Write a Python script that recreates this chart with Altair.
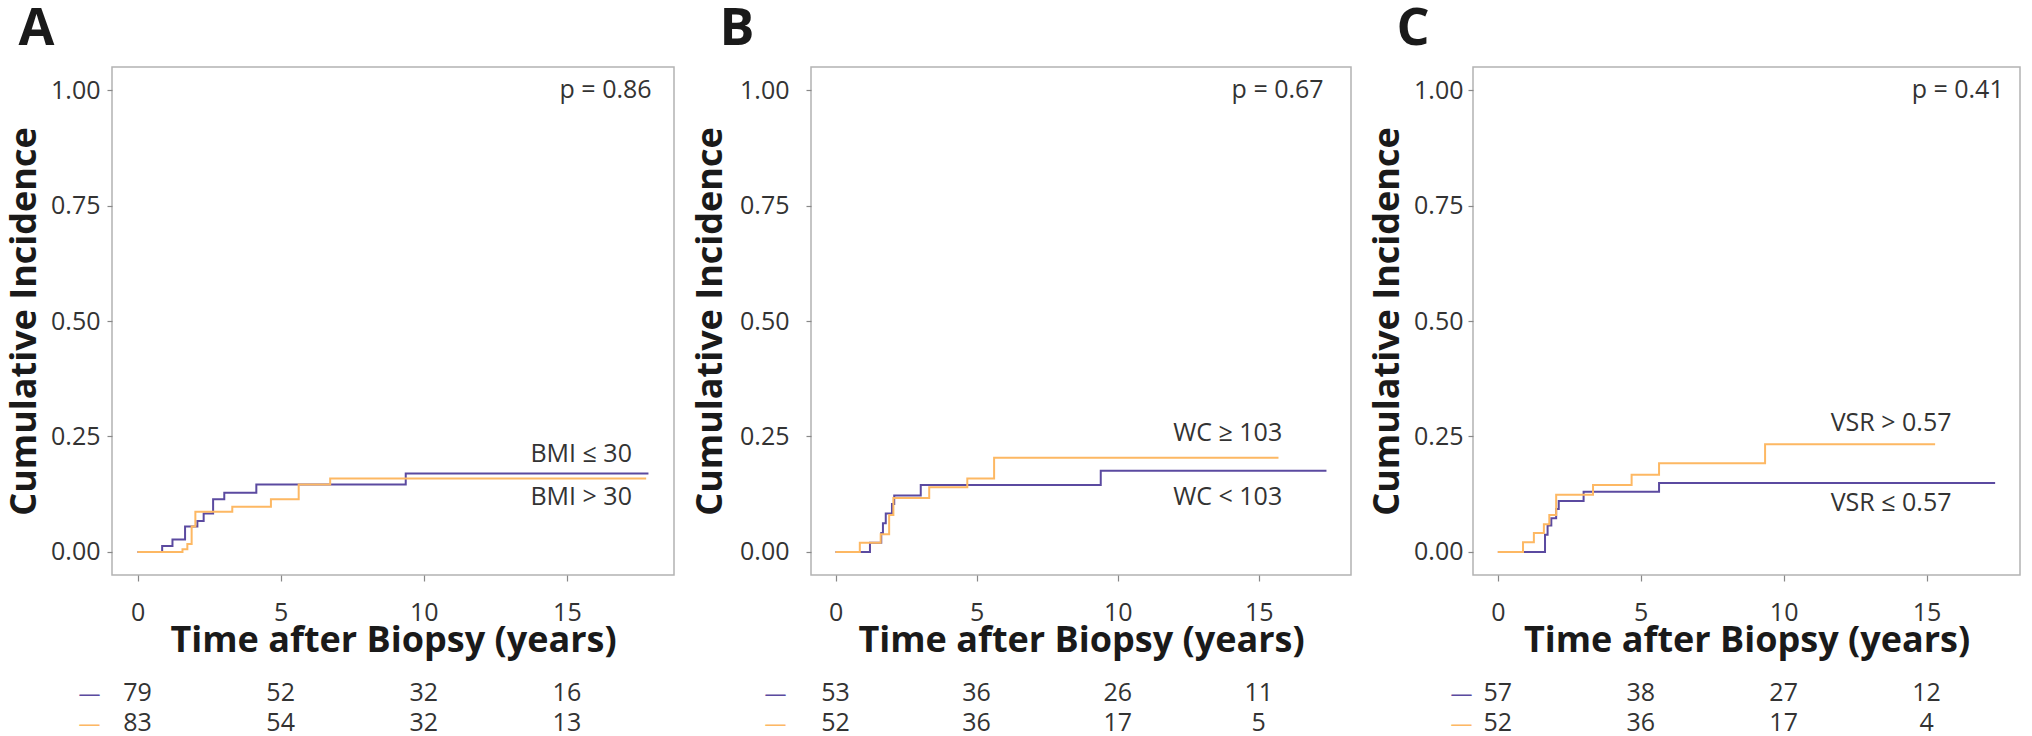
import altair as alt
import pandas as pd

PURPLE = "#5B4AA0"
ORANGE = "#FDB863"
FONT = "Open Sans"
DARK = "#333333"
BLACK = "#1a1a1a"

# ---------------- data ----------------
# Panel A (BMI)
a_pur_t = [0, 0.86, 1.22, 1.66, 2.09, 2.31, 2.64, 3.03, 4.15, 9.37, 17.85]
a_pur_v = [0, 0.013, 0.027, 0.055, 0.067, 0.083, 0.114, 0.128, 0.146, 0.170, 0.170]
a_org_t = [0, 1.57, 1.74, 1.89, 2.02, 3.31, 4.66, 5.63, 6.73, 17.77]
a_org_v = [0, 0.006, 0.017, 0.055, 0.087, 0.098, 0.114, 0.146, 0.159, 0.159]
# Panel B (WC)
b_pur_t = [0, 1.22, 1.62, 1.68, 1.78, 2.00, 2.08, 3.02, 9.40, 17.40]
b_pur_v = [0, 0.020, 0.041, 0.062, 0.083, 0.104, 0.122, 0.145, 0.176, 0.176]
b_org_t = [0, 0.86, 1.60, 1.90, 2.05, 3.32, 4.67, 5.62, 15.70]
b_org_v = [0, 0.020, 0.038, 0.080, 0.117, 0.140, 0.159, 0.204, 0.204]
# Panel C (VSR)
c_pur_t = [0, 1.65, 1.74, 1.87, 2.04, 2.13, 3.00, 5.64, 17.40]
c_pur_v = [0, 0.037, 0.057, 0.073, 0.093, 0.110, 0.130, 0.149, 0.149]
c_org_t = [0, 0.88, 1.26, 1.61, 1.80, 2.04, 3.33, 4.68, 5.64, 9.35, 15.30]
c_org_v = [0, 0.021, 0.041, 0.060, 0.080, 0.124, 0.145, 0.167, 0.192, 0.233, 0.233]

risk_times = [0, 5, 10, 15]
a_risk_pur = [79, 52, 32, 16]
a_risk_org = [83, 54, 32, 13]
b_risk_pur = [53, 36, 26, 11]
b_risk_org = [52, 36, 17, 5]
c_risk_pur = [57, 38, 27, 12]
c_risk_org = [52, 36, 17, 4]

a_labels = ["BMI \u2264 30", "BMI > 30"]
b_labels = ["WC < 103", "WC \u2265 103"]
c_labels = ["VSR \u2264 0.57", "VSR > 0.57"]
p_values = ["p = 0.86", "p = 0.67", "p = 0.41"]

# annotation anchors (data units)
a_lab_pos = [(15.5, 0.2125), (15.5, 0.119)]   # purple label, orange label
b_lab_pos = [(13.9, 0.118), (13.9, 0.257)]
c_lab_pos = [(13.76, 0.106), (13.76, 0.279)]
p_pos = [(17.96, 1.0), (17.3, 1.0), (17.7, 1.0)]


def panel(letter, pur_t, pur_v, org_t, org_v, risk_pur, risk_org, labels,
          lab_pos, ptext, ppos, width, ylab_pad, ytitle_pad, dash_pad, letter_dx):
    tmax = max(pur_t[-1], org_t[-1])
    xdom = [-0.05 * tmax, 1.05 * tmax]
    curves = pd.DataFrame({
        "t": pur_t + org_t,
        "v": pur_v + org_v,
        "g": ["pur"] * len(pur_t) + ["org"] * len(org_t),
    })
    xscale = alt.Scale(domain=xdom, nice=False, zero=False)
    yscale = alt.Scale(domain=[-0.05, 1.05], nice=False, zero=False)
    xaxis = alt.Axis(values=[0, 5, 10, 15], title="Time after Biopsy (years)",
                     labelFontSize=25, labelColor=DARK, labelFont=FONT,
                     tickSize=6, tickColor="#888888", tickWidth=1.2, domain=False, grid=False,
                     labelPadding=19, titleFontSize=36, titleFont=FONT,
                     titleFontWeight="bold", titleColor=BLACK, titlePadding=-2)
    yaxis = alt.Axis(values=[0, 0.25, 0.5, 0.75, 1.0], format=".2f",
                     title="Cumulative Incidence",
                     labelFontSize=25, labelColor=DARK, labelFont=FONT,
                     tickSize=5, tickColor="#888888", tickWidth=1.2, domain=False, grid=False,
                     labelPadding=ylab_pad, titleFontSize=36, titleFont=FONT,
                     titleFontWeight="bold", titleColor=BLACK, titlePadding=ytitle_pad)
    lines = alt.Chart(curves).mark_line(interpolate="step-after", strokeWidth=2).encode(
        x=alt.X("t:Q", scale=xscale, axis=xaxis),
        y=alt.Y("v:Q", scale=yscale, axis=yaxis),
        color=alt.Color("g:N", scale=alt.Scale(domain=["pur", "org"], range=[PURPLE, ORANGE]), legend=None),
        detail="g:N",
    )
    lab_df = pd.DataFrame({
        "x": [lab_pos[0][0], lab_pos[1][0]],
        "y": [lab_pos[0][1], lab_pos[1][1]],
        "txt": labels,
    })
    labs = alt.Chart(lab_df).mark_text(fontSize=25, font=FONT, color=DARK, align="center",
                                       baseline="middle").encode(
        x=alt.X("x:Q", scale=xscale), y=alt.Y("y:Q", scale=yscale), text="txt:N")
    p_df = pd.DataFrame({"x": [ppos[0]], "y": [ppos[1]], "txt": [ptext]})
    ptxt = alt.Chart(p_df).mark_text(fontSize=25, font=FONT, color=DARK, align="right",
                                     baseline="middle").encode(
        x=alt.X("x:Q", scale=xscale), y=alt.Y("y:Q", scale=yscale), text="txt:N")
    top = alt.layer(lines, labs, ptxt).properties(
        width=width, height=508,
        title=alt.TitleParams(letter, anchor="start", frame="bounds", fontSize=52, font=FONT,
                              fontWeight="bold", color=BLACK, dx=letter_dx, offset=11),
    )
    risk_df = pd.DataFrame({
        "t": risk_times + risk_times,
        "n": risk_pur + risk_org,
        "row": [1] * 4 + [2] * 4,
    })
    risk = alt.Chart(risk_df).mark_text(fontSize=25, font=FONT, color=DARK).encode(
        x=alt.X("t:Q", scale=xscale, axis=None),
        y=alt.Y("row:O", axis=alt.Axis(title=None, labelExpr="'\u2014'", domain=False, ticks=False,
                                       labelFontSize=22, labelFont=FONT, labelPadding=dash_pad,
                                       labelColor={"condition": {"test": "datum.value == 1", "value": PURPLE},
                                                   "value": ORANGE})),
        text="n:Q",
    ).properties(width=width, height=60, view={"stroke": "transparent"})
    return alt.vconcat(top, risk, spacing=18)


pA = panel("A", a_pur_t, a_pur_v, a_org_t, a_org_v, a_risk_pur, a_risk_org, a_labels,
           a_lab_pos, p_values[0], p_pos[0], 562, 7, 7, 12, 12)
pB = panel("B", b_pur_t, b_pur_v, b_org_t, b_org_v, b_risk_pur, b_risk_org, b_labels,
           b_lab_pos, p_values[1], p_pos[1], 540, 17, 10, 25, 27)
pC = panel("C", c_pur_t, c_pur_v, c_org_t, c_org_v, c_risk_pur, c_risk_org, c_labels,
           c_lab_pos, p_values[2], p_pos[2], 547, 5, 7, 1, 27)

chart = alt.hconcat(pA, pB, pC, spacing=16).properties(
    padding={"left": 5, "top": 2, "right": 0, "bottom": 0}
).configure(font=FONT).configure_view(stroke="#b3b3b3", strokeWidth=1.5)

chart.save("out.html", embed_options={"renderer": "svg", "actions": False})
